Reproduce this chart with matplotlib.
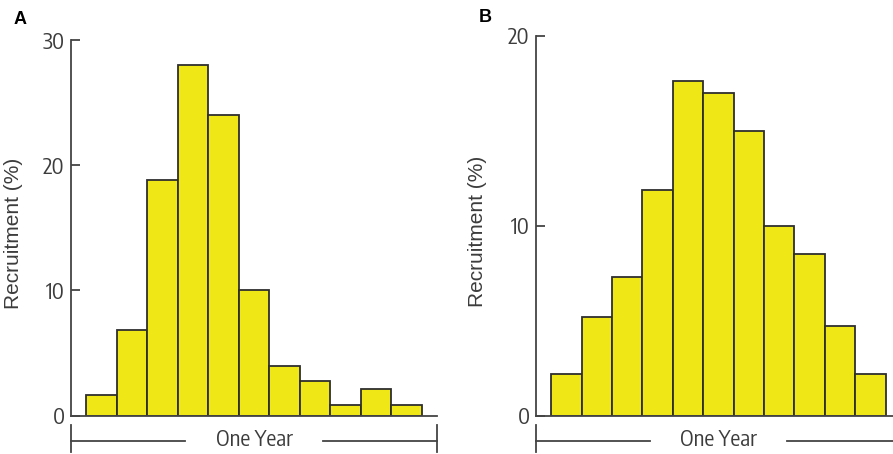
import matplotlib
matplotlib.use("Agg")
import matplotlib.pyplot as plt
import matplotlib.transforms as mtransforms
from matplotlib.font_manager import fontManager, FontProperties
from matplotlib.textpath import TextPath

# recruitment share per time bin across one year
bins = list(range(1, 12))
recruit_a = [1.65, 6.85, 18.8, 28.0, 24.0, 10.0, 4.0, 2.8, 0.85, 2.1, 0.85]
recruit_b = [2.2, 5.2, 7.3, 11.9, 17.6, 17.0, 15.0, 10.0, 8.5, 4.7, 2.2]
ticks_a = [0, 10, 20, 30]
ticks_b = [0, 10, 20]

TARGET_W = 3.42  # "One Year" width per point of size for an Arial-Narrow-like face


def pick_narrow():
    # condensed sans face closest to the wanted width
    best, best_w = FontProperties(family="Liberation Sans"), None
    seen = set()
    for f in fontManager.ttflist:
        nm = f.name.lower()
        if "cjk" in nm or "mono" in nm or f.style != "normal":
            continue
        if not ("narrow" in nm or "condensed" in nm or "condensed" in f.stretch):
            continue
        if f.weight not in (400, "normal", "regular") or f.fname in seen:
            continue
        seen.add(f.fname)
        fp = FontProperties(fname=f.fname)
        try:
            w = TextPath((0, 0), "One Year", size=1, prop=fp).get_extents().width
        except Exception:
            continue
        if best_w is None or abs(w - TARGET_W) < abs(best_w - TARGET_W):
            best, best_w = fp, w
        if len(seen) > 15:
            break
    if best_w is None:
        return best, 14
    size = 76 / (best_w * 100 / 72)
    return best, max(14, min(17, size))


narrow, nsize = pick_narrow()

BAR = "#f0e816"
EDGE = "#2e2e2e"
TXT = "#3c3c3c"
AXC = "#444444"

fig = plt.figure(figsize=(8.93, 4.54), dpi=100)
ax_a = fig.add_axes([0.0795, 0.0844, 0.4099, 0.8275])
ax_b = fig.add_axes([0.6002, 0.0844, 0.4087, 0.8370])


def draw_panel(ax, values, ticks, letter, letter_xy, label_x):
    ax.bar(bins, values, width=1.0, color=BAR, edgecolor=EDGE, linewidth=1.3)
    ax.set_xlim(0, 12)
    ax.set_ylim(0, ticks[-1])
    for side in ("top", "right"):
        ax.spines[side].set_visible(False)
    for side in ("left", "bottom"):
        ax.spines[side].set_color(AXC)
        ax.spines[side].set_linewidth(1.3)
    ax.set_xticks([])
    ax.set_yticks(ticks)
    ax.set_yticklabels([str(t) for t in ticks], fontproperties=narrow, fontsize=nsize, color=TXT)
    ax.tick_params(axis="y", direction="in", length=6.5, width=1.3, color=AXC, pad=4.5)
    ax.set_ylabel("Recruitment (%)", fontsize=15, color=TXT, family="Liberation Sans")
    ax.yaxis.set_label_coords(label_x, 0.485)

    # "One Year" bracket under the x axis
    tr = mtransforms.blended_transform_factory(ax.transData, fig.transFigure)
    y_line = 13 / 454
    for x in (0, 12):
        ax.plot([x, x], [2 / 454, 29 / 454], transform=tr, color=AXC, lw=1.3, clip_on=False)
    ax.plot([0, 3.75], [y_line, y_line], transform=tr, color=AXC, lw=1.3, clip_on=False)
    ax.plot([8.25, 12], [y_line, y_line], transform=tr, color=AXC, lw=1.3, clip_on=False)
    ax.text(6, y_line + 1 / 454, "One Year", transform=tr, ha="center", va="center",
            fontproperties=narrow, fontsize=nsize, color=TXT)

    fig.text(letter_xy[0] / 893, 1 - letter_xy[1] / 454, letter, fontsize=13,
             fontweight="bold", family="Liberation Sans", color="black",
             ha="center", va="center")


draw_panel(ax_a, recruit_a, ticks_a, "A", (20, 19), -0.131)
draw_panel(ax_b, recruit_b, ticks_b, "B", (485, 18), -0.134)

fig.savefig("out.png", dpi=100)
